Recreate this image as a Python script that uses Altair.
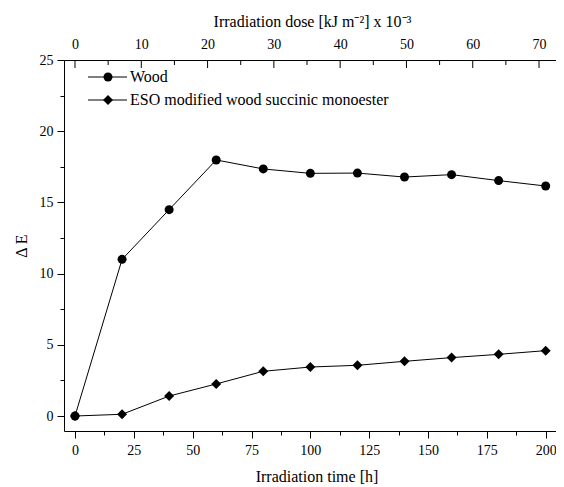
import altair as alt
import pandas as pd

# ---- data ----
hours = [0, 20, 40, 60, 80, 100, 120, 140, 160, 180, 200]
wood = [0.0, 11.0, 14.49, 17.98, 17.35, 17.04, 17.06, 16.78, 16.95, 16.53, 16.15]
eso = [0.0, 0.12, 1.40, 2.25, 3.14, 3.44, 3.56, 3.84, 4.10, 4.33, 4.59]
series_names = ["Wood", "ESO modified wood succinic monoester"]
shapes = ["circle", "diamond"]
marker_sizes = [81, 100]

x_tick_values = [0, 12.5, 25, 37.5, 50, 62.5, 75, 87.5, 100, 112.5, 125, 137.5,
                 150, 162.5, 175, 187.5, 200]
y_tick_values = [0, 2.5, 5, 7.5, 10, 12.5, 15, 17.5, 20, 22.5, 25]
dose_major = [0, 10, 20, 30, 40, 50, 60, 70]
dose_minor = [5, 15, 25, 35, 45, 55, 65]

FONT = "Liberation Serif"

rows = []
for h, w, e in zip(hours, wood, eso):
    rows.append({"series": series_names[0], "hours": h, "value": w})
    rows.append({"series": series_names[1], "hours": h, "value": e})
df = pd.DataFrame(rows)
legend_df = pd.DataFrame({"series": series_names})

X = alt.X(
    "hours:Q",
    scale=alt.Scale(domain=[-4.674, 204.38], nice=False, zero=False),
    axis=alt.Axis(
        orient="bottom",
        values=x_tick_values,
        labelExpr="datum.value % 25 === 0 ? datum.label : ''",
        tickSize={"condition": {"test": "datum.value % 25 !== 0", "value": 4}, "value": 7},
        labelPadding=5,
        labelFlush=False,
        labelFont=FONT,
        labelFontSize=14,
        title="Irradiation time [h]",
        titleFont=FONT,
        titlePadding=11,
        titleX=252.5,
    ),
)
Y = alt.Y(
    "value:Q",
    scale=alt.Scale(domain=[-1.053, 25], nice=False, zero=False),
    axis=alt.Axis(
        values=y_tick_values,
        labelExpr="datum.value % 5 === 0 ? datum.label : ''",
        tickSize={"condition": {"test": "datum.value % 5 !== 0", "value": 4}, "value": 7},
        labelPadding=4,
        labelFlush=False,
        labelFont=FONT,
        labelFontSize=14,
        title="Δ\u2009E",
        titleFont=FONT,
        titlePadding=10,
    ),
)

base = alt.Chart(df)
lines = base.mark_line(color="black", strokeWidth=1).encode(x=X, y=Y, detail="series:N")
points = base.mark_point(filled=True, color="black", opacity=1).encode(
    x=X,
    y=Y,
    shape=alt.Shape("series:N", scale=alt.Scale(domain=series_names, range=shapes), legend=None),
    size=alt.Size("series:N", scale=alt.Scale(domain=series_names, range=marker_sizes), legend=None),
)

# manual legend (inside, top-left)
legend_layers = []
legend_y = [17, 40]
for name, shp, sz, ly in zip(series_names, shapes, marker_sizes, legend_y):
    lb = alt.Chart(legend_df).transform_filter(alt.datum.series == name)
    legend_layers.append(
        lb.mark_rule(color="black", strokeWidth=1).encode(
            x=alt.value(24), x2=alt.value(63), y=alt.value(ly)
        )
    )
    legend_layers.append(
        lb.mark_point(filled=True, color="black", opacity=1, shape=shp, size=sz).encode(
            x=alt.value(44), y=alt.value(ly)
        )
    )
    legend_layers.append(
        lb.mark_text(align="left", baseline="middle", font=FONT, fontSize=16, color="black").encode(
            x=alt.value(66), y=alt.value(ly), text="series:N"
        )
    )

main = alt.layer(lines, points, *legend_layers)

top_axis = alt.Axis(
    orient="top",
    values=dose_major,
    ticks=False,
    labelPadding=9,
    labelFlush=False,
    labelFont=FONT,
    labelFontSize=14,
    title="Irradiation dose [kJ m⁻²]  x 10⁻³",
    titleFont=FONT,
    titlePadding=8,
    titleX=248,
)
top_scale = alt.Scale(domain=[-1.659, 72.56], nice=False, zero=False)
top_major = alt.Chart(pd.DataFrame({"dose": dose_major})).mark_rule(color="black", strokeWidth=1).encode(
    x=alt.X("dose:Q", scale=top_scale, axis=top_axis), y=alt.value(0), y2=alt.value(8)
)
top_minor = alt.Chart(pd.DataFrame({"dose": dose_minor})).mark_rule(color="black", strokeWidth=1).encode(
    x=alt.X("dose:Q", scale=top_scale, axis=top_axis), y=alt.value(0), y2=alt.value(5)
)
top = alt.layer(top_major, top_minor)

chart = (
    alt.layer(main, top)
    .resolve_scale(x="independent")
    .resolve_axis(x="independent")
    .properties(
        width=492,
        height=371,
        padding={"left": 56, "top": 52, "right": 0, "bottom": 56},
        autosize=alt.AutoSizeParams(type="none"),
        background="white",
    )
    .configure_view(stroke=None)
    .configure_axis(
        labelFont=FONT,
        labelFontSize=14,
        labelColor="black",
        titleFont=FONT,
        titleFontSize=16,
        titleFontWeight="normal",
        titleColor="black",
        tickColor="black",
        tickWidth=1,
        domainColor="black",
        domainWidth=1,
        grid=False,
    )
)

chart.save("out.html", embed_options={"renderer": "svg", "actions": False})
